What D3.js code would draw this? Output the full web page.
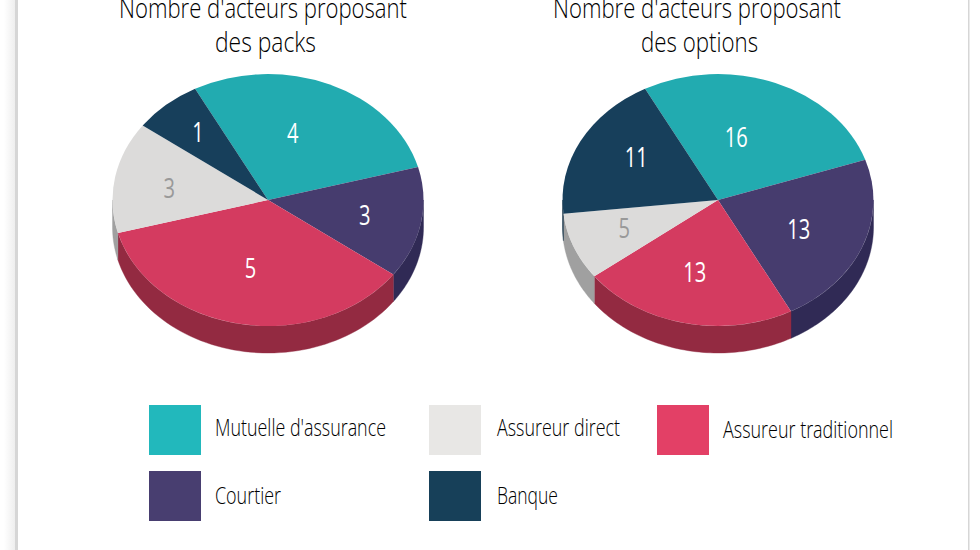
<!DOCTYPE html>
<html><head><meta charset="utf-8">
<style>html,body{margin:0;padding:0;background:#fff}svg{display:block}text{font-family:"Open Sans","Noto Sans",sans-serif;font-weight:400}</style>
<script src="https://cdn.jsdelivr.net/npm/d3@7"></script></head><body>
<div id="chart"></div>
<script>
const categories = ["Mutuelle d'assurance","Courtier","Assureur traditionnel","Assureur direct","Banque"];
// The printed labels of the first pie do not match its drawn slices: the slice angles read as 4:2:5:2:1.
const packsSliceShares = [4,2,5,2,1];
const packsLabels = [4,3,5,3,1];
const optionsSliceShares = [16,13,13,5,11];
const optionsLabels = [16,13,13,5,11];
const titlesPacks = ["Nombre d'acteurs proposant","des packs"];
const titlesOptions = ["Nombre d'acteurs proposant","des options"];
const topColors = ["#22abb0","#463c6e","#d43b60","#dcdbda","#173f5b"];
const sideColors = ["#1a8286","#302a55","#932a41","#a0a0a0","#102d42"];
const legendColors = ["#22b8bc","#483e70","#e34066","#e8e7e5","#174059"];
const labelColors = ["#fff","#fff","#fff","#999","#fff"];

const W=980,H=550,RX=155.5,RY=126,DEPTH=27,START=-28*Math.PI/180;
const svg=d3.select("#chart").append("svg").attr("width",W).attr("height",H);

// page frame with a faint shadow on its outer side
const defs=svg.append("defs");
const sh=defs.append("linearGradient").attr("id","shade");
sh.append("stop").attr("offset",0).attr("stop-color","#fff");
sh.append("stop").attr("offset",1).attr("stop-color","#eeeeee");
svg.append("rect").attr("x",4).attr("y",0).attr("width",11).attr("height",H).attr("fill","url(#shade)");
svg.append("rect").attr("x",15).attr("y",0).attr("width",3).attr("height",H).attr("fill","#d6d6d6");
svg.append("rect").attr("x",968).attr("y",0).attr("width",1.5).attr("height",H).attr("fill","#d6d6d6");

const pie=d3.pie().sort(null).startAngle(START).endAngle(START+2*Math.PI);
const arc=d3.arc().innerRadius(0).outerRadius(1);
const px=(a,cx)=>cx+RX*Math.sin(a), py=(a,cy)=>cy-RY*Math.cos(a);

function drawPie(cx,cy,shares,labels,titles,titleX,titleW,nudges){
  const g=svg.append("g");
  const slices=pie(shares);
  // walls: the part of each slice's rim on the front half of the ellipse
  const wall=d3.line();
  slices.forEach((s,i)=>{
    for(const [lo,hi] of [[Math.PI/2,3*Math.PI/2],[Math.PI/2+2*Math.PI,3*Math.PI/2+2*Math.PI],[Math.PI/2-2*Math.PI,3*Math.PI/2-2*Math.PI]]){
      const a0=Math.max(s.startAngle,lo),a1=Math.min(s.endAngle,hi);
      if(a1<=a0) continue;
      const as=d3.range(0,61).map(k=>a0+(a1-a0)*k/60);
      const pts=as.map(a=>[px(a,cx),py(a,cy)]).concat(as.slice().reverse().map(a=>[px(a,cx),py(a,cy)+DEPTH]));
      g.append("path").attr("d",wall(pts)+"Z").attr("fill",sideColors[i]).attr("stroke",sideColors[i]).attr("stroke-width",.4);
    }
  });
  // top face: unit-circle arcs stretched to the ellipse
  const top=g.append("g").attr("transform",`translate(${cx},${cy}) scale(${RX},${RY})`);
  top.selectAll("path").data(slices).join("path").attr("d",arc)
    .attr("fill",(d,i)=>topColors[i]);
  // value labels
  g.selectAll("text.v").data(slices).join("text").attr("class","v")
    .attr("x",(d,i)=>cx+arc.centroid(d)[0]*2*0.58*RX+nudges[i][0])
    .attr("y",(d,i)=>cy+arc.centroid(d)[1]*2*0.58*RY+nudges[i][1]+10)
    .attr("text-anchor","middle").attr("font-size",28).style("font-weight",400)
    .attr("fill",(d,i)=>labelColors[i])
    .attr("textLength",(d,i)=>String(labels[i]).length*11.5).attr("lengthAdjust","spacingAndGlyphs")
    .text((d,i)=>labels[i]);
  // title
  titles.forEach((t,i)=>{
    svg.append("text").attr("x",titleX[i]).attr("y",18+i*34).attr("text-anchor","middle")
      .attr("font-size",28).attr("fill","#000").style("font-weight",300)
      .attr("textLength",titleW[i]).attr("lengthAdjust","spacingAndGlyphs").text(t);
  });
}
drawPie(268,200,packsSliceShares,packsLabels,titlesPacks,[263,265.5],[288,101],[[-11,0],[8,2],[-1,-4],[-10,1],[-11,-13]]);
drawPie(718,200,optionsSliceShares,optionsLabels,titlesOptions,[697,699.5],[288,117],[[-15,5],[-3,2],[-4,1],[-10,1],[-2,-9]]);

// legend
const legendRows=[
 {c:0,x:149,y:405,tx:215,ty:436,w:171},
 {c:3,x:429,y:405,tx:497,ty:436,w:123},
 {c:2,x:657,y:405,tx:723,ty:438,w:170},
 {c:1,x:149,y:471,tx:215,ty:504,w:66},
 {c:4,x:429,y:471,tx:497,ty:504,w:61}];
const lg=svg.append("g");
lg.selectAll("rect").data(legendRows).join("rect").attr("x",d=>d.x).attr("y",d=>d.y)
  .attr("width",52).attr("height",50).attr("fill",d=>legendColors[d.c]);
lg.selectAll("text").data(legendRows).join("text").attr("x",d=>d.tx).attr("y",d=>d.ty)
  .attr("font-size",23).attr("fill","#000").style("font-weight",300).attr("textLength",d=>d.w).attr("lengthAdjust","spacingAndGlyphs")
  .text(d=>categories[d.c]);
</script></body></html>
